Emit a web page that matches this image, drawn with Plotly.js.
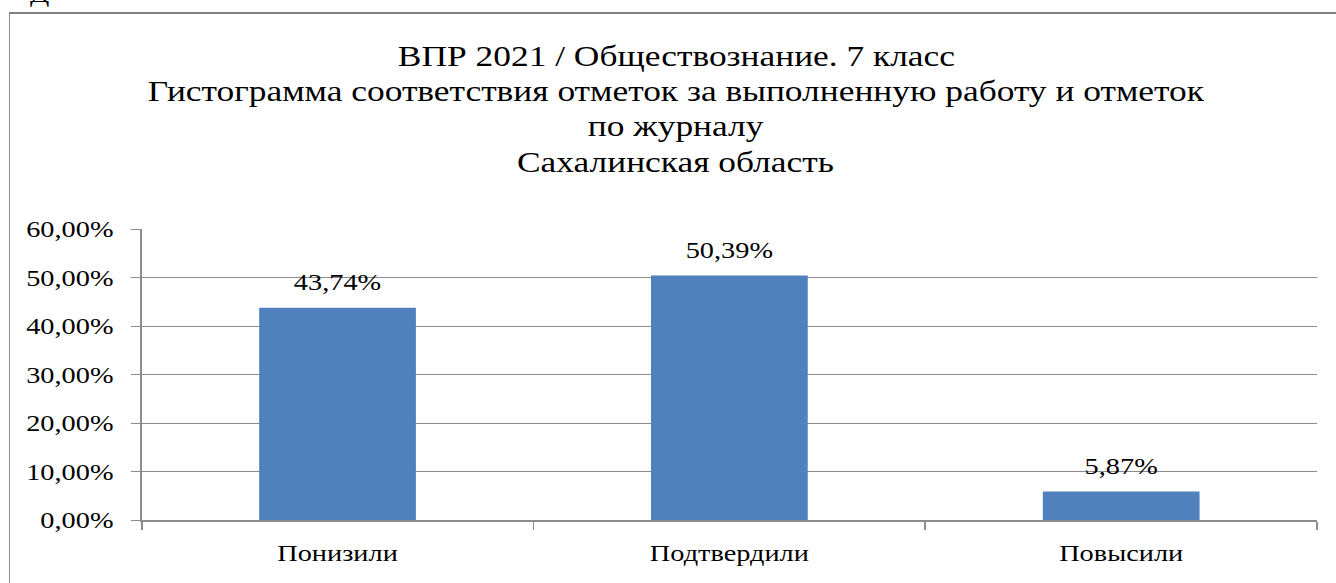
<!DOCTYPE html>
<html>
<head>
<meta charset="utf-8">
<script src="https://cdn.plot.ly/plotly-3.0.1.min.js"></script>
<style>
  html, body { margin: 0; padding: 0; overflow: hidden; background: #fff; width: 1336px; height: 583px; }
  #wrap { position: absolute; left: 0; top: 0; width: 1132px; height: 583px;
          transform: scaleX(1.1802); transform-origin: 0 0; }
  #chart { width: 1132px; height: 583px; }
  #frame { position: absolute; left: 9px; top: 12px; width: 1400px; height: 700px;
           border-left: 1px solid #8c8c8c; border-top: 2px solid #7f7f7f; pointer-events: none; }
  #cut { position: absolute; left: 30px; top: -19px; font-family: "Liberation Serif", serif;
         font-size: 24px; color: #000; transform: scaleX(1.18); transform-origin: 0 0; }
</style>
</head>
<body>
<div id="wrap"><div id="chart"></div></div>
<div id="frame"></div>
<div id="cut">Д</div>
<script>
const categories = ["Понизили", "Подтвердили", "Повысили"];
const values = [43.74, 50.39, 5.87];
const titleLines = [
  "ВПР 2021 / Обществознание. 7 класс",
  "Гистограмма соответствия отметок за выполненную работу и отметок",
  "по журналу",
  "Сахалинская область"
];

const fontFam = '"Liberation Serif", "Times New Roman", serif';
const fmt = v => v.toFixed(2).replace('.', ',') + '%';

const W = 1132, H = 583;
const S = 1336 / W;              // horizontal stretch of the reference
const plotL = 142 / S, plotR = (1336 - 1317) / S;
const plotT = 229, plotB = 63;
const plotH = H - plotT - plotB;
const plotW = W - plotL - plotR;

const trace = {
  type: 'bar',
  x: categories,
  y: values,
  marker: { color: '#4F81BD' },
  hoverinfo: 'none'
};

const labelAnnotations = categories.map((c, i) => ({
  x: c, y: values[i], xref: 'x', yref: 'y',
  text: fmt(values[i]), showarrow: false,
  yanchor: 'middle', yshift: 26,
  font: { family: fontFam, size: 24, color: '#000' }
}));

// title lines: centre x and line-centre y in page pixels
const titleCx = 676 / S;
const titleY0 = 56, titleStep = 35;
const titleAnnotations = titleLines.map((t, i) => ({
  xref: 'paper', yref: 'paper',
  x: (titleCx - plotL) / plotW,
  y: (H - plotB - (titleY0 + i * titleStep)) / plotH,
  xanchor: 'center', yanchor: 'middle',
  text: t, showarrow: false,
  font: { family: fontFam, size: 30, color: '#000' }
}));

const layout = {
  width: W, height: H,
  margin: { l: plotL, r: plotR, t: plotT, b: plotB, pad: 0 },
  paper_bgcolor: 'rgba(0,0,0,0)',
  plot_bgcolor: 'rgba(0,0,0,0)',
  separators: ', ',
  bargap: 0.6,
  showlegend: false,
  font: { family: fontFam, color: '#000' },
  xaxis: {
    type: 'category',
    range: [-0.5, 2.5],
    tickson: 'boundaries',
    ticks: 'outside', ticklen: 8, tickcolor: '#8c8c8c', tickwidth: 1.5,
    showgrid: false,
    showline: true, linecolor: '#8c8c8c', linewidth: 2,
    ticklabelstandoff: 10,
    tickfont: { family: fontFam, size: 24, color: '#000' },
    fixedrange: true
  },
  yaxis: {
    range: [0, 60], dtick: 10, tick0: 0,
    tickformat: '.2f', ticksuffix: '%',
    ticks: 'outside', ticklen: 8, tickcolor: '#8c8c8c',
    showgrid: true, gridcolor: '#8c8c8c', gridwidth: 1,
    showline: true, linecolor: '#8c8c8c', linewidth: 1,
    zeroline: false,
    ticklabelstandoff: 10,
    tickfont: { family: fontFam, size: 24, color: '#000' },
    fixedrange: true
  },
  annotations: titleAnnotations.concat(labelAnnotations)
};

Plotly.newPlot('chart', [trace], layout, { displayModeBar: false, staticPlot: true });
</script>
</body>
</html>
